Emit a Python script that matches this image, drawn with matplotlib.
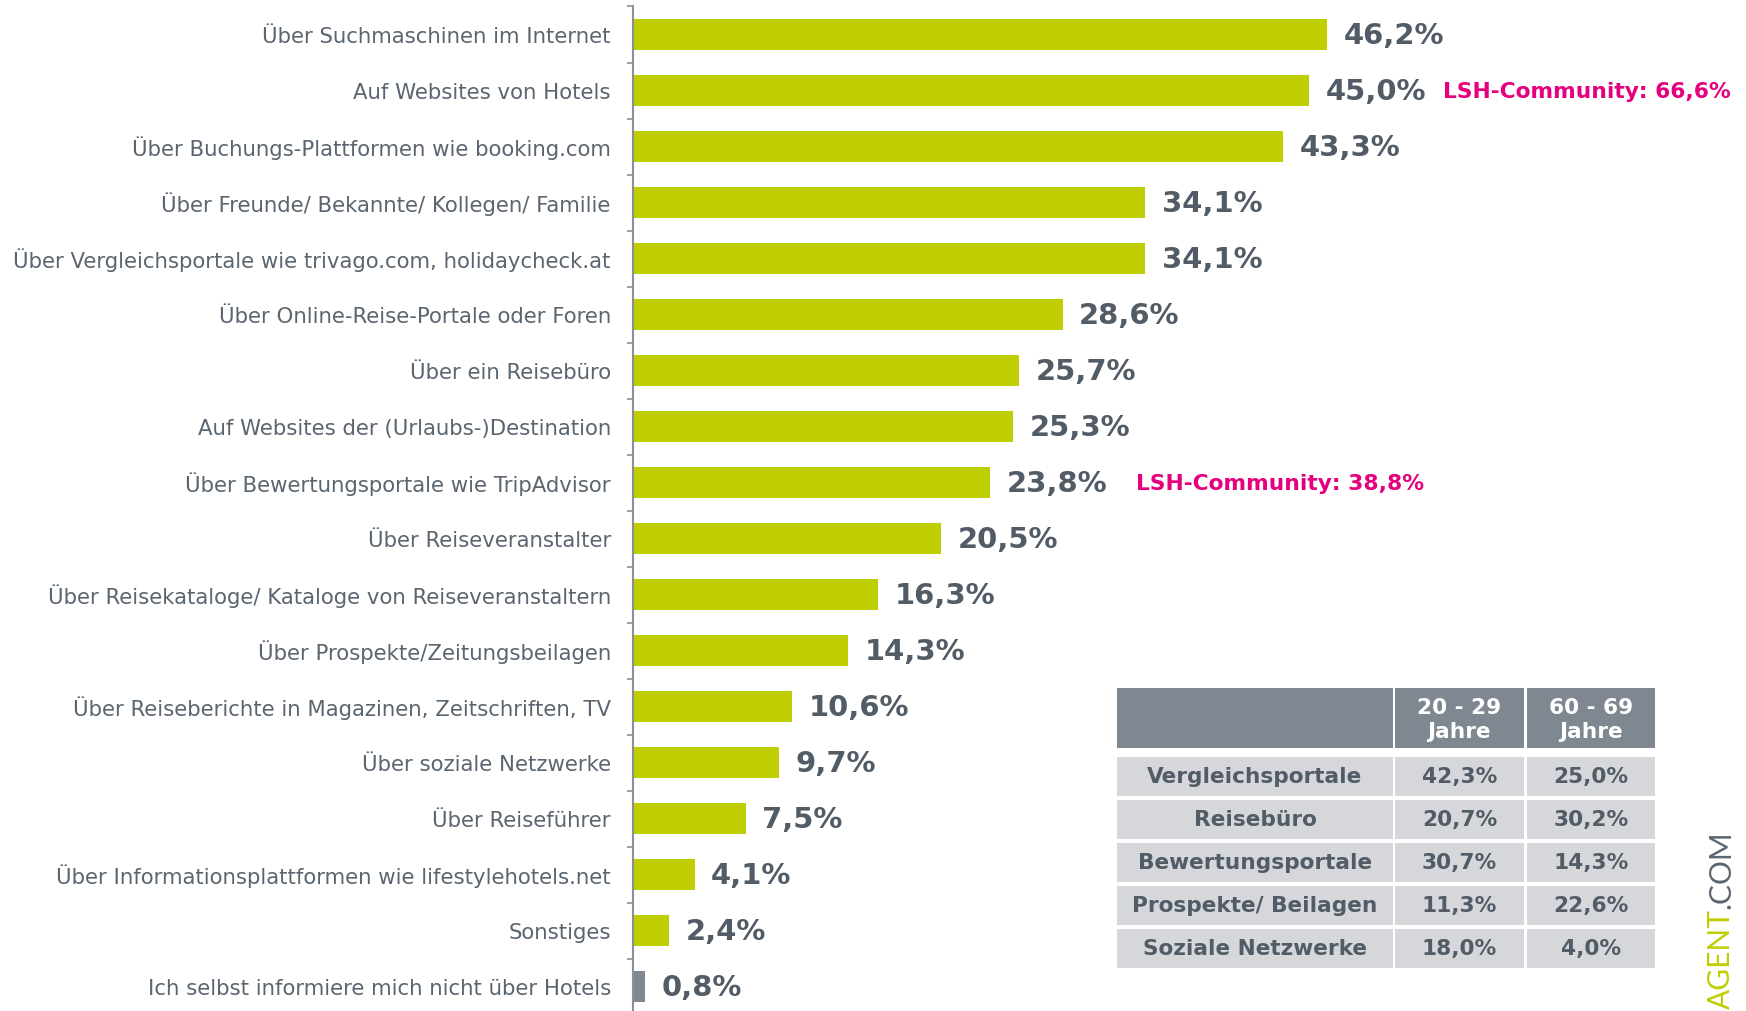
import numpy as np
import matplotlib
matplotlib.use("Agg")
import matplotlib.pyplot as plt
from matplotlib.patches import Rectangle

# Daten
kategorien = [
    "Über Suchmaschinen im Internet",
    "Auf Websites von Hotels",
    "Über Buchungs-Plattformen wie booking.com",
    "Über Freunde/ Bekannte/ Kollegen/ Familie",
    "Über Vergleichsportale wie trivago.com, holidaycheck.at",
    "Über Online-Reise-Portale oder Foren",
    "Über ein Reisebüro",
    "Auf Websites der (Urlaubs-)Destination",
    "Über Bewertungsportale wie TripAdvisor",
    "Über Reiseveranstalter",
    "Über Reisekataloge/ Kataloge von Reiseveranstaltern",
    "Über Prospekte/Zeitungsbeilagen",
    "Über Reiseberichte in Magazinen, Zeitschriften, TV",
    "Über soziale Netzwerke",
    "Über Reiseführer",
    "Über Informationsplattformen wie lifestylehotels.net",
    "Sonstiges",
    "Ich selbst informiere mich nicht über Hotels",
]
werte = [46.2, 45.0, 43.3, 34.1, 34.1, 28.6, 25.7, 25.3, 23.8, 20.5,
         16.3, 14.3, 10.6, 9.7, 7.5, 4.1, 2.4, 0.8]

# LSH-Community Hinweise: (Zeile, Text)
lsh_zeilen = [1, 8]
lsh_texte = ["LSH-Community: 66,6%", "LSH-Community: 38,8%"]

tabelle_kopf = ["", "20 - 29\nJahre", "60 - 69\nJahre"]
tabelle_zeilen = ["Vergleichsportale", "Reisebüro", "Bewertungsportale",
                  "Prospekte/ Beilagen", "Soziale Netzwerke"]
jung = [42.3, 20.7, 30.7, 11.3, 18.0]
alt = [25.0, 30.2, 14.3, 22.6, 4.0]

GRUEN = "#bfce00"
GRAU = "#7f8790"
TEXT = "#5a6570"
DUNKEL = "#525c66"
MAGENTA = "#e6007e"

def fmt(v):
    return f"{v:.1f}".replace(".", ",") + "%"

W, H = 1746, 1011
fig = plt.figure(figsize=(W / 100, H / 100), dpi=100)

# Hauptdiagramm (Pixelangaben in Achsenposition umgerechnet)
x0 = 633
top = 6.5
bottom = 1014.6
ax = fig.add_axes([x0 / W, (H - bottom) / H, 1 - x0 / W, (bottom - top) / H])
y = np.arange(len(werte))
farben = [GRUEN] * (len(werte) - 1) + [GRAU]
ax.barh(y, werte, height=0.555, color=farben)
ax.set_xlim(0, (W - x0) / 15.02)
ax.set_ylim(len(werte) - 0.5, -0.5)

for s in ["top", "right", "bottom"]:
    ax.spines[s].set_visible(False)
ax.spines["left"].set_color("#8a9099")
ax.spines["left"].set_linewidth(1.5)
ax.set_xticks([])
ax.set_yticks(y)
ax.set_yticklabels(kategorien, fontsize=15.3, color=TEXT)
ax.tick_params(axis="y", which="major", length=0, pad=16)
ax.set_yticks(np.arange(-0.5, len(werte) + 0.5, 1), minor=True)
ax.tick_params(axis="y", which="minor", length=4.5, width=1.2, color="#8a9099")

for i, v in enumerate(werte):
    ax.text(v + 1.1, i + 0.03, fmt(v), va="center", ha="left", fontsize=20.9,
            fontweight="bold", color=DUNKEL)

lsh_x = [53.9, 33.5]
for z, t, xx in zip(lsh_zeilen, lsh_texte, lsh_x):
    ax.text(xx, z + 0.02, t, va="center", ha="left", fontsize=15.7,
            fontweight="bold", color=MAGENTA)

# Tabelle in Pixelkoordinaten
ov = fig.add_axes([0, 0, 1, 1], facecolor="none")
ov.set_xlim(0, W)
ov.set_ylim(H, 0)
ov.axis("off")

spalten = [(1117, 1393), (1395, 1524), (1527, 1655)]
kopf_oben, kopf_unten = 688, 748
for (a, b), t in zip(spalten, tabelle_kopf):
    ov.add_patch(Rectangle((a, kopf_oben), b - a, kopf_unten - kopf_oben,
                           color=GRAU, lw=0))
    if t:
        ov.text((a + b) / 2, (kopf_oben + kopf_unten) / 2 + 2, t, ha="center",
                va="center", fontsize=15.6, fontweight="bold", color="white",
                linespacing=1.2)

zeile_h, luecke = 39.2, 3.8
start = 757
for r, name in enumerate(tabelle_zeilen):
    y1 = start + r * (zeile_h + luecke)
    texte = [name, fmt(jung[r]), fmt(alt[r])]
    for (a, b), t in zip(spalten, texte):
        ov.add_patch(Rectangle((a, y1), b - a, zeile_h, color="#d5d7db", lw=0))
        ov.text((a + b) / 2, y1 + zeile_h / 2, t, ha="center", va="center",
                fontsize=15.6, fontweight="bold", color=DUNKEL)

# Logo am rechten Rand
agent = ov.text(1721, 1009, "AGENT", rotation=90, ha="center", va="bottom",
                fontsize=21.5, color=GRUEN, family="Lato")
ov.annotate(".COM", xy=(0.5, 1.0), xycoords=agent, rotation=90,
            ha="center", va="bottom", fontsize=21.5, color=TEXT, family="Lato")

fig.savefig("out.png", dpi=100)
